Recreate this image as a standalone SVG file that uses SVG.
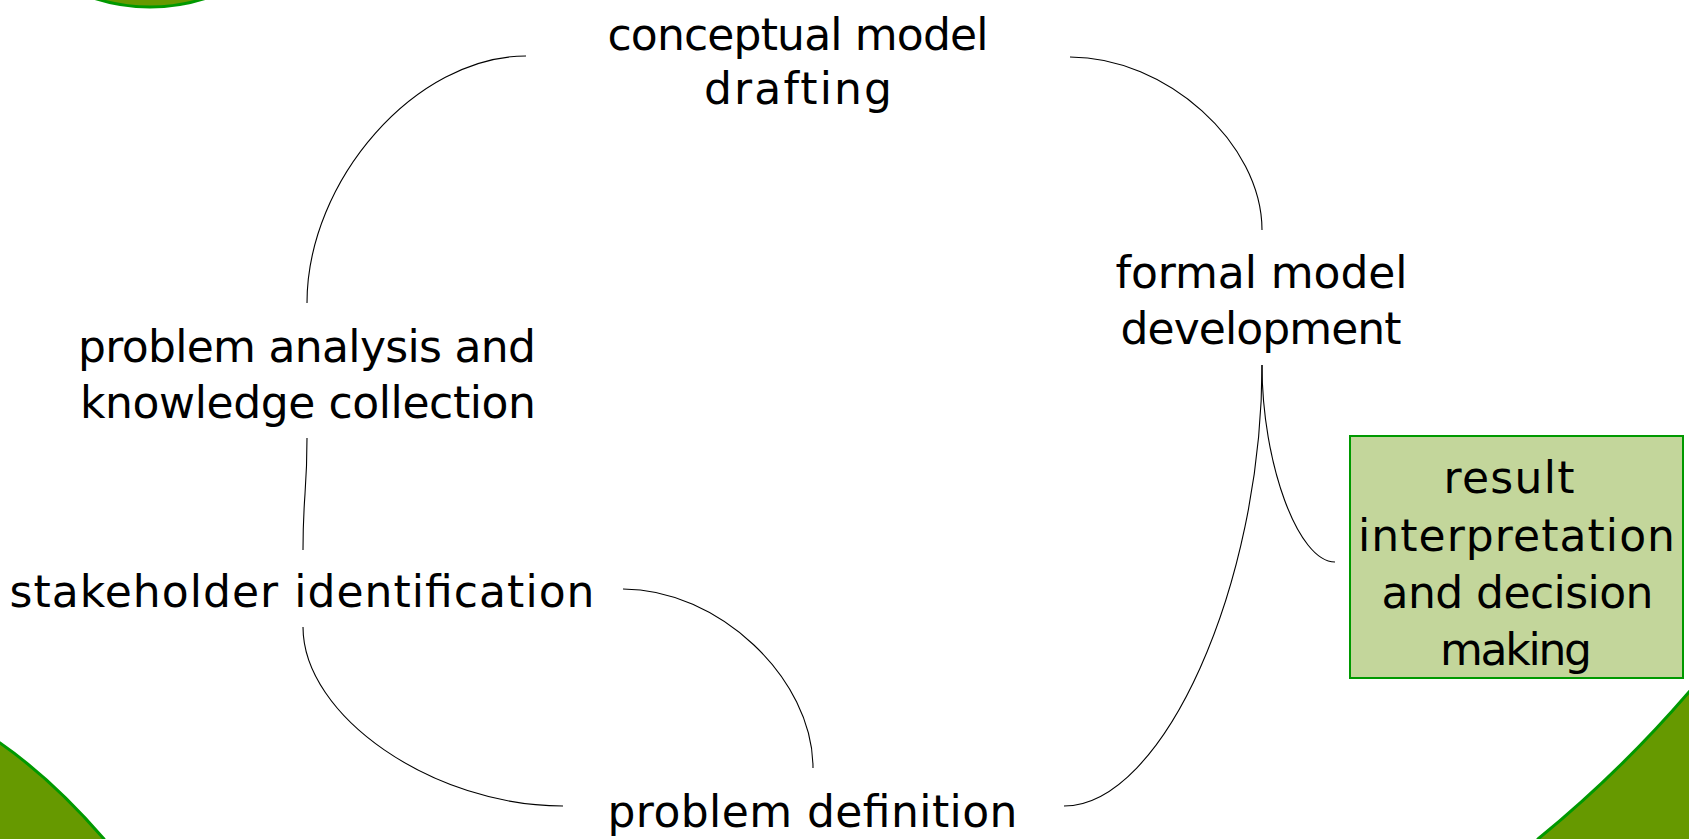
<svg xmlns="http://www.w3.org/2000/svg" width="1689" height="839" viewBox="0 0 1689 839">
<style>
  .bg { fill: #669900; stroke: #009900; stroke-width: 3; }
  .lbl { font-family: "DejaVu Sans", "Liberation Sans", sans-serif; font-size: 44px; fill: #000; text-anchor: middle; }
  .conn path { fill: none; stroke: #000; stroke-width: 1.1; }
  .box { fill: #C3D69B; stroke: #009900; stroke-width: 2; }
</style>
<rect width="1689" height="839" fill="#ffffff"/>
<g id="decor">
  <circle class="bg" cx="150" cy="-175" r="182"/>
  <path class="bg" d="M -10 736 L 0 743 Q 52 779 104 839 L 110 850 L -10 850 Z"/>
  <path class="bg" d="M 1700 680 L 1689 692 Q 1620 772 1538 839 L 1530 850 L 1700 850 Z"/>
</g>
<g id="connectors" class="conn">
  <path d="M 526 56 C 416 56, 307 180, 307 303"/>
  <path d="M 1070 57 C 1166 57, 1262 143, 1262 230"/>
  <path d="M 1262 365 C 1262 585, 1163 806, 1064 806"/>
  <path d="M 1262 365 C 1262 463, 1298 562, 1335 562"/>
  <path d="M 307 438 C 307 494, 303 494, 303 550"/>
  <path d="M 303 627 C 303 716, 433 806, 563 806"/>
  <path d="M 623 589 C 718 589, 813 678, 813 768"/>
</g>
<g id="node-conceptual">
  <text class="lbl" x="798" y="50" textLength="381">conceptual model</text>
  <text class="lbl" x="798" y="104" textLength="188">drafting</text>
</g>
<g id="node-formal">
  <text class="lbl" x="1261.5" y="288" textLength="292">formal model</text>
  <text class="lbl" x="1261" y="344" textLength="281">development</text>
</g>
<g id="node-analysis">
  <text class="lbl" x="307" y="362" textLength="458">problem analysis and</text>
  <text class="lbl" x="308" y="418" textLength="456">knowledge collection</text>
</g>
<g id="node-stakeholder">
  <text class="lbl" x="302" y="607" textLength="585">stakeholder identification</text>
</g>
<g id="node-definition">
  <text class="lbl" x="812.5" y="827" textLength="410">problem definition</text>
</g>
<g id="node-result">
  <rect class="box" x="1350" y="436" width="333" height="242"/>
  <text class="lbl" x="1509" y="493" textLength="131">result</text>
  <text class="lbl" x="1516.5" y="551" textLength="317">interpretation</text>
  <text class="lbl" x="1517.5" y="608" textLength="272">and decision</text>
  <text class="lbl" x="1516" y="665" textLength="152">making</text>
</g>
</svg>
